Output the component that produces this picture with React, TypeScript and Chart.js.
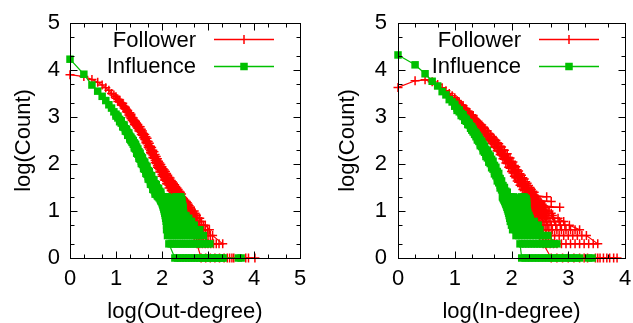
import React, { useEffect, useRef } from "react";
import { Chart, registerables } from "chart.js";

Chart.register(...registerables);

const FONT_FAMILY = "'Liberation Sans', Arial, Helvetica, sans-serif";
const FONT_SIZE = 22;
const RED = "#ff0000";
const GREEN = "#00c000";

const seriesNames = ["Follower", "Influence"];
const seriesColors = [RED, GREEN];
const yTicks = [0, 1, 2, 3, 4, 5];
const outXTicks = [0, 1, 2, 3, 4, 5];
const inXTicks = [0, 1, 2, 3, 4];
const minorOffsets = [0.301, 0.699];

// Row = [x, y1, y2, ...]  (several degrees sharing nearly the same log-degree)
// Level = [y, x1, x2, ...] (low counts fall on discrete log-count levels)
type Row = number[];

// ---- Left panel: out-degree ----
const outFollowerRows: Row[] = [
  [0, 3.9], [0.301, 3.86], [0.477, 3.8], [0.602, 3.74], [0.699, 3.68], [0.778, 3.62], [0.845, 3.57],
  [0.903, 3.5], [0.954, 3.47],
  [1.0, 3.4, 3.43], [1.041, 3.37, 3.33], [1.079, 3.32, 3.36], [1.114, 3.3, 3.26], [1.146, 3.25, 3.29],
  [1.176, 3.23, 3.19], [1.204, 3.17, 3.21], [1.23, 3.15, 3.11], [1.255, 3.1, 3.14], [1.279, 3.09, 3.04],
  [1.301, 3.04, 3.09, 3.0], [1.325, 3.03, 2.97, 3.06], [1.35, 2.93, 2.99, 2.96], [1.375, 2.98, 2.9, 2.94],
  [1.4, 2.87, 2.93, 2.84], [1.425, 2.91, 2.83, 2.87], [1.45, 2.79, 2.86, 2.82], [1.475, 2.84, 2.76, 2.8],
  [1.5, 2.73, 2.8, 2.7], [1.525, 2.79, 2.69, 2.74], [1.55, 2.67, 2.74, 2.63], [1.575, 2.7, 2.61, 2.66],
  [1.6, 2.56, 2.65, 2.6], [1.625, 2.63, 2.52, 2.57], [1.65, 2.49, 2.58, 2.45], [1.675, 2.55, 2.43, 2.49],
  [1.7, 2.39, 2.48, 2.35], [1.725, 2.44, 2.32, 2.38], [1.75, 2.28, 2.38, 2.24], [1.775, 2.35, 2.22, 2.29],
  [1.8, 2.19, 2.29, 2.14], [1.825, 2.26, 2.12, 2.19], [1.85, 2.08, 2.2, 2.03], [1.875, 2.16, 2.01, 2.09],
  [1.9, 1.97, 2.11, 1.93], [1.925, 2.06, 1.91, 1.99], [1.95, 1.88, 2.02, 1.83], [1.975, 1.99, 1.83, 1.92],
  [2.0, 1.78, 1.94, 1.74], [2.025, 1.9, 1.74, 1.83], [2.05, 1.71, 1.87, 1.66], [2.075, 1.84, 1.66, 1.76],
  [2.1, 1.63, 1.8, 1.58], [2.125, 1.76, 1.58, 1.68], [2.15, 1.55, 1.72, 1.49], [2.175, 1.7, 1.51, 1.61],
  [2.2, 1.47, 1.65, 1.43], [2.225, 1.62, 1.45, 1.54], [2.25, 1.4, 1.59, 1.36], [2.275, 1.56, 1.38, 1.48],
  [2.3, 1.34, 1.52, 1.32], [2.325, 1.49, 1.34, 1.43], [2.35, 1.32, 1.46, 1.38], [2.375, 1.42, 1.36],
  [2.4, 1.4, 1.34], [2.425, 1.36],
];
const outFollowerLevels: Row[] = [
  [1.301, 2.28, 2.33, 2.38, 2.43],
  [1.279, 2.3, 2.35, 2.4, 2.45],
  [1.255, 2.32, 2.37, 2.42, 2.47],
  [1.23, 2.31, 2.36, 2.41, 2.46, 2.5],
  [1.204, 2.34, 2.39, 2.44, 2.49, 2.53],
  [1.176, 2.36, 2.41, 2.46, 2.51, 2.55],
  [1.146, 2.37, 2.42, 2.47, 2.52, 2.57],
  [1.114, 2.39, 2.44, 2.49, 2.54, 2.59],
  [1.079, 2.41, 2.46, 2.51, 2.56, 2.61],
  [1.041, 2.43, 2.48, 2.53, 2.58, 2.63],
  [1.0, 2.45, 2.5, 2.55, 2.6, 2.65, 2.7],
  [0.954, 2.47, 2.52, 2.57, 2.62, 2.67, 2.72],
  [0.903, 2.5, 2.55, 2.6, 2.65, 2.7, 2.75],
  [0.845, 2.53, 2.58, 2.63, 2.68, 2.73, 2.78, 2.82],
  [0.778, 2.56, 2.61, 2.66, 2.71, 2.76, 2.81, 2.86],
  [0.699, 2.6, 2.65, 2.7, 2.75, 2.8, 2.85, 2.9, 2.94],
  [0.602, 2.64, 2.69, 2.74, 2.79, 2.84, 2.89, 2.94, 2.99, 3.03],
  [0.477, 2.7, 2.75, 2.8, 2.85, 2.9, 2.95, 3.0, 3.05, 3.1],
  [0.301, 2.76, 2.82, 2.88, 2.94, 3.0, 3.06, 3.12, 3.18, 3.24, 3.32],
  [0, 2.85, 2.95, 3.05, 3.15, 3.25, 3.35, 3.42, 3.47, 3.52, 3.56, 3.82, 3.88, 4.02],
];
const outInfluenceRows: Row[] = [
  [0, 4.23], [0.301, 3.91], [0.477, 3.68], [0.602, 3.55], [0.699, 3.44], [0.778, 3.35], [0.845, 3.26],
  [0.903, 3.19], [0.954, 3.11],
  [1.0, 3.06, 3.02], [1.041, 2.98, 3.02], [1.079, 2.95, 2.9], [1.114, 2.87, 2.92], [1.146, 2.84, 2.79],
  [1.176, 2.78, 2.83], [1.204, 2.75, 2.7], [1.23, 2.69, 2.74], [1.255, 2.67, 2.61], [1.279, 2.61, 2.66],
  [1.301, 2.59, 2.53, 2.56], [1.325, 2.57, 2.5, 2.53], [1.35, 2.46, 2.53, 2.49], [1.375, 2.5, 2.42, 2.46],
  [1.4, 2.37, 2.45, 2.34], [1.425, 2.42, 2.32, 2.38], [1.45, 2.27, 2.36, 2.23], [1.475, 2.32, 2.21, 2.27],
  [1.5, 2.16, 2.26, 2.12], [1.525, 2.23, 2.1, 2.17], [1.55, 2.06, 2.16, 2.01], [1.575, 2.13, 1.99, 2.07],
  [1.6, 1.95, 2.06, 1.9], [1.625, 2.04, 1.89, 1.97], [1.65, 1.85, 1.97, 1.8], [1.675, 1.94, 1.78, 1.87],
  [1.7, 1.73, 1.86, 1.68], [1.725, 1.84, 1.67, 1.76], [1.75, 1.62, 1.76, 1.57], [1.775, 1.75, 1.56, 1.66],
  [1.8, 1.52, 1.67, 1.46], [1.825, 1.66, 1.45, 1.57], [1.85, 1.41, 1.58, 1.36], [1.875, 1.56, 1.36, 1.47],
  [1.9, 1.34, 1.49, 1.32], [1.925, 1.48, 1.32, 1.4], [1.95, 1.32, 1.42, 1.36], [1.975, 1.4, 1.34],
];
const outInfluenceLevels: Row[] = [
  [1.301, 1.92, 1.97, 2.02, 2.07, 2.12, 2.3, 2.36, 2.41],
  [1.279, 1.94, 1.99, 2.04, 2.09, 2.14, 2.33, 2.39],
  [1.255, 1.96, 2.01, 2.06, 2.11, 2.16, 2.31, 2.37, 2.42],
  [1.23, 1.97, 2.02, 2.07, 2.12, 2.17, 2.22, 2.34, 2.4, 2.43],
  [1.204, 1.98, 2.03, 2.08, 2.13, 2.18, 2.23, 2.28, 2.33, 2.38, 2.43],
  [1.176, 2.0, 2.05, 2.1, 2.15, 2.2, 2.25, 2.3, 2.35, 2.4],
  [1.146, 2.01, 2.06, 2.11, 2.16, 2.21, 2.26, 2.31, 2.36, 2.41, 2.44],
  [1.114, 2.02, 2.07, 2.12, 2.17, 2.22, 2.27, 2.32, 2.37, 2.42, 2.45],
  [1.079, 2.03, 2.08, 2.13, 2.18, 2.23, 2.28, 2.33, 2.38, 2.43, 2.46],
  [1.041, 2.04, 2.09, 2.14, 2.19, 2.24, 2.29, 2.34, 2.39, 2.44],
  [1.0, 2.05, 2.1, 2.15, 2.2, 2.25, 2.3, 2.35, 2.4, 2.46],
  [0.954, 2.06, 2.11, 2.16, 2.21, 2.26, 2.31, 2.36, 2.41, 2.47],
  [0.903, 2.07, 2.12, 2.17, 2.22, 2.27, 2.32, 2.37, 2.42, 2.47, 2.52],
  [0.845, 2.08, 2.13, 2.18, 2.23, 2.28, 2.33, 2.38, 2.43, 2.48, 2.53, 2.58],
  [0.778, 2.09, 2.14, 2.19, 2.24, 2.29, 2.34, 2.39, 2.44, 2.49, 2.54, 2.59, 2.64],
  [0.699, 2.1, 2.15, 2.2, 2.25, 2.3, 2.35, 2.4, 2.45, 2.5, 2.55, 2.6, 2.65, 2.7],
  [0.602, 2.1, 2.15, 2.2, 2.25, 2.3, 2.35, 2.4, 2.45, 2.5, 2.55, 2.6, 2.65, 2.7, 2.76, 2.82],
  [0.477, 2.12, 2.17, 2.22, 2.27, 2.32, 2.37, 2.42, 2.47, 2.52, 2.57, 2.62, 2.67, 2.72, 2.78, 2.84, 2.9],
  [0.301, 2.15, 2.2, 2.25, 2.3, 2.35, 2.4, 2.45, 2.5, 2.55, 2.6, 2.65, 2.7, 2.75, 2.81, 2.87, 2.93, 2.99, 3.04],
  [0, 2.28, 2.34, 2.4, 2.46, 2.52, 2.58, 2.64, 2.7, 2.76, 2.82, 2.88, 2.94, 3.0, 3.06, 3.12, 3.18, 3.24, 3.3, 3.33, 3.66, 3.72],
];

// ---- Right panel: in-degree ----
const inFollowerRows: Row[] = [
  [0, 3.63], [0.301, 3.77], [0.477, 3.79], [0.602, 3.75], [0.699, 3.69], [0.778, 3.62], [0.845, 3.56],
  [0.903, 3.5], [0.954, 3.45],
  [1.0, 3.38, 3.41], [1.041, 3.35, 3.31], [1.079, 3.28, 3.32], [1.114, 3.26, 3.22], [1.146, 3.2, 3.24],
  [1.176, 3.18, 3.14], [1.204, 3.13, 3.17], [1.23, 3.11, 3.07], [1.255, 3.06, 3.1], [1.279, 3.05, 3.0],
  [1.301, 3.0, 3.05, 2.97], [1.325, 3.0, 2.94, 3.03], [1.35, 2.91, 2.97, 2.94], [1.375, 2.94, 2.87, 2.91],
  [1.4, 2.84, 2.9, 2.81], [1.425, 2.88, 2.8, 2.84], [1.45, 2.77, 2.84, 2.74], [1.475, 2.83, 2.73, 2.78],
  [1.5, 2.71, 2.78, 2.67], [1.525, 2.76, 2.66, 2.71], [1.55, 2.63, 2.71, 2.59], [1.575, 2.7, 2.58, 2.64],
  [1.6, 2.56, 2.65, 2.52], [1.625, 2.63, 2.51, 2.57], [1.65, 2.48, 2.58, 2.44], [1.675, 2.56, 2.43, 2.5],
  [1.7, 2.41, 2.52, 2.36], [1.725, 2.5, 2.36, 2.43], [1.75, 2.33, 2.45, 2.28], [1.775, 2.43, 2.28, 2.35],
  [1.8, 2.26, 2.38, 2.2], [1.825, 2.36, 2.19, 2.27], [1.85, 2.17, 2.3, 2.11], [1.875, 2.29, 2.1, 2.19],
  [1.9, 2.09, 2.22, 2.02], [1.925, 2.22, 2.01, 2.1], [1.95, 2.01, 2.14, 1.93], [1.975, 2.13, 1.91, 2.02],
  [2.0, 1.92, 2.06, 1.84], [2.025, 2.04, 1.81, 1.93], [2.05, 1.81, 1.97, 1.74], [2.075, 1.94, 1.71, 1.83],
  [2.1, 1.71, 1.88, 1.64], [2.125, 1.85, 1.61, 1.73], [2.15, 1.62, 1.79, 1.55], [2.175, 1.76, 1.52, 1.64],
  [2.2, 1.53, 1.71, 1.46], [2.225, 1.68, 1.43, 1.56], [2.25, 1.44, 1.62, 1.38], [2.275, 1.59, 1.36, 1.48],
  [2.3, 1.36, 1.54, 1.32], [2.325, 1.5, 1.34, 1.42], [2.35, 1.32, 1.46, 1.38], [2.375, 1.42, 1.36],
  [2.4, 1.4, 1.34],
];
const inFollowerLevels: Row[] = [
  [1.301, 2.22, 2.27, 2.32, 2.37, 2.42, 2.62],
  [1.279, 2.24, 2.29, 2.34, 2.39, 2.44],
  [1.255, 2.25, 2.3, 2.35, 2.4, 2.45],
  [1.23, 2.26, 2.31, 2.36, 2.41, 2.46],
  [1.204, 2.27, 2.32, 2.37, 2.42, 2.47, 2.7],
  [1.176, 2.28, 2.33, 2.38, 2.43, 2.48, 2.52],
  [1.146, 2.29, 2.34, 2.39, 2.44, 2.49, 2.54],
  [1.114, 2.3, 2.35, 2.4, 2.45, 2.5, 2.56],
  [1.079, 2.32, 2.37, 2.42, 2.47, 2.52, 2.58, 2.85],
  [1.041, 2.33, 2.38, 2.43, 2.48, 2.53, 2.6],
  [1.0, 2.34, 2.39, 2.44, 2.49, 2.54, 2.6, 2.66],
  [0.954, 2.36, 2.41, 2.46, 2.51, 2.56, 2.62, 2.7],
  [0.903, 2.38, 2.43, 2.48, 2.53, 2.58, 2.64, 2.72],
  [0.845, 2.4, 2.45, 2.5, 2.55, 2.6, 2.66, 2.74, 2.82],
  [0.778, 2.42, 2.47, 2.52, 2.57, 2.62, 2.68, 2.76, 2.84, 2.92],
  [0.699, 2.44, 2.49, 2.54, 2.59, 2.64, 2.7, 2.78, 2.86, 2.94, 3.02],
  [0.602, 2.46, 2.51, 2.56, 2.61, 2.66, 2.72, 2.8, 2.88, 2.96, 3.04, 3.12, 3.2],
  [0.477, 2.5, 2.55, 2.6, 2.65, 2.7, 2.76, 2.84, 2.92, 3.0, 3.08, 3.16, 3.24, 3.32],
  [0.301, 2.56, 2.62, 2.68, 2.74, 2.8, 2.88, 2.96, 3.04, 3.12, 3.2, 3.28, 3.36, 3.44, 3.52],
  [0, 2.7, 2.8, 2.9, 3.0, 3.1, 3.2, 3.28, 3.34, 3.48, 3.52, 3.56, 3.62, 3.68, 3.73, 3.8, 3.86],
];
const inInfluenceRows: Row[] = [
  [0, 4.32], [0.301, 4.11], [0.477, 3.92], [0.602, 3.76], [0.699, 3.66], [0.778, 3.54], [0.845, 3.47],
  [0.903, 3.37], [0.954, 3.32],
  [1.0, 3.23, 3.27], [1.041, 3.19, 3.14], [1.079, 3.11, 3.15], [1.114, 3.08, 3.03], [1.146, 3.01, 3.05],
  [1.176, 2.98, 2.93], [1.204, 2.91, 2.95], [1.23, 2.89, 2.84], [1.255, 2.83, 2.87], [1.279, 2.81, 2.76],
  [1.301, 2.75, 2.79, 2.72], [1.325, 2.74, 2.68, 2.71], [1.35, 2.63, 2.69, 2.66], [1.375, 2.66, 2.58, 2.62],
  [1.4, 2.54, 2.61, 2.51], [1.425, 2.57, 2.48, 2.53], [1.45, 2.43, 2.51, 2.39], [1.475, 2.48, 2.37, 2.43],
  [1.5, 2.33, 2.42, 2.28], [1.525, 2.38, 2.25, 2.31], [1.55, 2.21, 2.31, 2.16], [1.575, 2.28, 2.13, 2.2],
  [1.6, 2.1, 2.21, 2.04], [1.625, 2.17, 2.01, 2.09], [1.65, 1.98, 2.1, 1.92], [1.675, 2.06, 1.89, 1.97],
  [1.7, 1.85, 1.97, 1.79], [1.725, 1.93, 1.75, 1.84], [1.75, 1.71, 1.84, 1.64], [1.775, 1.8, 1.6, 1.7],
  [1.8, 1.55, 1.69, 1.49], [1.825, 1.64, 1.45, 1.55], [1.85, 1.41, 1.54, 1.36], [1.875, 1.5, 1.34, 1.43],
  [1.9, 1.33, 1.42], [1.925, 1.4, 1.32],
];
const inInfluenceLevels: Row[] = [
  [1.301, 1.84, 1.89, 1.94, 1.99, 2.04, 2.18, 2.22],
  [1.279, 1.85, 1.9, 1.95, 2.0, 2.05, 2.2, 2.24],
  [1.255, 1.86, 1.91, 1.96, 2.01, 2.06, 2.11, 2.21, 2.26],
  [1.23, 1.87, 1.92, 1.97, 2.02, 2.07, 2.12, 2.17, 2.23],
  [1.204, 1.88, 1.93, 1.98, 2.03, 2.08, 2.13, 2.18, 2.23, 2.27],
  [1.176, 1.89, 1.94, 1.99, 2.04, 2.09, 2.14, 2.19, 2.24],
  [1.146, 1.9, 1.95, 2.0, 2.05, 2.1, 2.15, 2.2, 2.25],
  [1.114, 1.91, 1.96, 2.01, 2.06, 2.11, 2.16, 2.21, 2.27],
  [1.079, 1.92, 1.97, 2.02, 2.07, 2.12, 2.17, 2.22, 2.26],
  [1.041, 1.93, 1.98, 2.03, 2.08, 2.13, 2.18, 2.23, 2.27],
  [1.0, 1.94, 1.99, 2.04, 2.09, 2.14, 2.19, 2.24, 2.28],
  [0.954, 1.95, 2.0, 2.05, 2.1, 2.15, 2.2, 2.25, 2.29],
  [0.903, 1.96, 2.01, 2.06, 2.11, 2.16, 2.21, 2.26, 2.31],
  [0.845, 1.97, 2.02, 2.07, 2.12, 2.17, 2.22, 2.27, 2.33],
  [0.778, 1.98, 2.03, 2.08, 2.13, 2.18, 2.23, 2.28, 2.34, 2.4],
  [0.699, 2.0, 2.05, 2.1, 2.15, 2.2, 2.25, 2.3, 2.35, 2.41, 2.47],
  [0.602, 2.02, 2.07, 2.12, 2.17, 2.22, 2.27, 2.32, 2.37, 2.43, 2.5],
  [0.477, 2.08, 2.13, 2.18, 2.23, 2.28, 2.33, 2.38, 2.43, 2.48, 2.53, 2.58, 2.64],
  [0.301, 2.15, 2.2, 2.25, 2.3, 2.35, 2.4, 2.45, 2.5, 2.55, 2.6, 2.65, 2.7, 2.75, 2.8],
  [0, 2.18, 2.24, 2.3, 2.36, 2.42, 2.48, 2.54, 2.6, 2.66, 2.72, 2.78, 2.84, 2.9, 2.96, 3.02, 3.08, 3.14, 3.2, 3.36, 3.42],
];

type Pt = { x: number; y: number };

// Rows are traced in degree order; the low-count tail is traced level by level,
// alternating direction so the connecting line stays inside the marker cloud.
function buildPoints(rows: Row[], levels: Row[]): Pt[] {
  const pts: Pt[] = [];
  rows.forEach(([x, ...ys]) => ys.forEach((y) => pts.push({ x, y })));
  const n = levels.length;
  levels.forEach(([y, ...xs], i) => {
    const seq = (n - 1 - i) % 2 === 0 ? xs : [...xs].reverse();
    seq.forEach((x) => pts.push({ x, y }));
  });
  return pts;
}

const font = { family: FONT_FAMILY, size: FONT_SIZE };

const framePlugin = {
  id: "gpFrame",
  afterDatasetsDraw(chart: any) {
    const { ctx, chartArea: a, scales } = chart;
    const xs = scales.x;
    const ys = scales.y;
    ctx.save();
    ctx.strokeStyle = "#000";
    ctx.lineWidth = 1;
    const L = Math.round(a.left) + 0.5;
    const R = Math.round(a.right) + 0.5;
    const T = Math.round(a.top) + 0.5;
    const B = Math.round(a.bottom) + 0.5;
    ctx.strokeRect(L, T, R - L, B - T);
    const major = 7;
    const minor = 4;
    ctx.beginPath();
    const xMax = xs.max;
    for (let k = 0; k <= xMax; k++) {
      const vals: [number, number][] = [[k, major]];
      minorOffsets.forEach((o) => { if (k + o < xMax) vals.push([k + o, minor]); });
      vals.forEach(([v, len]) => {
        const px = Math.round(xs.getPixelForValue(v)) + 0.5;
        ctx.moveTo(px, B); ctx.lineTo(px, B - len);
        ctx.moveTo(px, T); ctx.lineTo(px, T + len);
      });
    }
    const yMax = ys.max;
    for (let k = 0; k <= yMax; k++) {
      const vals: [number, number][] = [[k, major]];
      minorOffsets.forEach((o) => { if (k + o < yMax) vals.push([k + o, minor]); });
      vals.forEach(([v, len]) => {
        const py = Math.round(ys.getPixelForValue(v)) + 0.5;
        ctx.moveTo(L, py); ctx.lineTo(L + len, py);
        ctx.moveTo(R, py); ctx.lineTo(R - len, py);
      });
    }
    ctx.stroke();
    ctx.restore();
  },
};

const legendPlugin = {
  id: "gpLegend",
  afterDraw(chart: any) {
    const { ctx, chartArea: a } = chart;
    const r = Math.round(a.right);
    const rows = [47, 73];
    const lineYs = [39.5, 66.5];
    ctx.save();
    ctx.font = `${FONT_SIZE}px ${FONT_FAMILY}`;
    ctx.textAlign = "right";
    ctx.textBaseline = "alphabetic";
    seriesNames.forEach((name, i) => {
      const color = seriesColors[i];
      ctx.fillStyle = "#000";
      ctx.fillText(name, r - 104, rows[i]);
      const y = lineYs[i];
      const x0 = r - 86;
      const x1 = r - 26;
      const xm = r - 56;
      ctx.strokeStyle = color;
      ctx.lineWidth = 1.4;
      ctx.beginPath();
      ctx.moveTo(x0, y);
      ctx.lineTo(x1, y);
      ctx.stroke();
      if (i === 0) {
        ctx.lineWidth = 1.5;
        ctx.beginPath();
        ctx.moveTo(xm, y - 4.5);
        ctx.lineTo(xm, y + 4.5);
        ctx.stroke();
      } else {
        ctx.fillStyle = color;
        ctx.fillRect(xm - 3.75, y - 3.75, 7.5, 7.5);
      }
    });
    ctx.restore();
  },
};

type PanelProps = {
  left: number;
  width: number;
  xMax: number;
  xTicks: number[];
  xTitle: string;
  follower: Pt[];
  influence: Pt[];
  yAxisWidth: number;
  padRight: number;
  yTitlePad: number;
  yTickPad: number;
};

function Panel(p: PanelProps) {
  const ref = useRef<HTMLCanvasElement>(null);
  useEffect(() => {
    const chart = new Chart(ref.current as HTMLCanvasElement, {
      type: "scatter",
      data: {
        datasets: [
          {
            label: seriesNames[0],
            data: p.follower,
            showLine: true,
            borderColor: RED,
            backgroundColor: RED,
            borderWidth: 1.2,
            pointStyle: "cross",
            pointRadius: 4.5,
            pointBorderWidth: 1.5,
            pointBorderColor: RED,
            pointBackgroundColor: RED,
            tension: 0,
            clip: false,
            order: 2,
          } as any,
          {
            label: seriesNames[1],
            data: p.influence,
            showLine: true,
            borderColor: GREEN,
            backgroundColor: GREEN,
            borderWidth: 1.2,
            pointStyle: "rect",
            pointRadius: 5.3,
            pointBorderWidth: 0,
            pointBackgroundColor: GREEN,
            pointBorderColor: GREEN,
            tension: 0,
            clip: false,
            order: 1,
          } as any,
        ],
      },
      options: {
        responsive: false,
        animation: false,
        devicePixelRatio: 1,
        events: [],
        layout: { padding: { left: 0, top: 23, right: p.padRight, bottom: 0 } },
        plugins: { legend: { display: false }, tooltip: { enabled: false } },
        scales: {
          x: {
            type: "linear",
            min: 0,
            max: p.xMax,
            afterBuildTicks: (s: any) => { s.ticks = p.xTicks.map((v) => ({ value: v })); },
            ticks: { font, color: "#000", padding: 8, maxRotation: 0, autoSkip: false },
            grid: { display: false, drawTicks: false },
            border: { display: false },
            title: { display: true, text: p.xTitle, font, color: "#000", padding: { top: 0, bottom: -2 } },
            afterFit: (s: any) => { s.height = 65; s.paddingLeft = 0; s.paddingRight = 0; },
          } as any,
          y: {
            type: "linear",
            min: 0,
            max: 5,
            afterBuildTicks: (s: any) => { s.ticks = yTicks.map((v) => ({ value: v })); },
            ticks: { font, color: "#000", padding: p.yTickPad, autoSkip: false },
            grid: { display: false, drawTicks: false },
            border: { display: false },
            title: { display: true, text: "log(Count)", font, color: "#000", padding: { top: p.yTitlePad, bottom: 0 } },
            afterFit: (s: any) => { s.width = p.yAxisWidth; s.paddingTop = 0; s.paddingBottom = 0; },
          } as any,
        },
      },
      plugins: [framePlugin, legendPlugin],
    });
    return () => chart.destroy();
  }, []);
  return (
    <canvas
      ref={ref}
      width={p.width}
      height={323}
      style={{ position: "absolute", left: p.left, top: 0, width: p.width, height: 323 }}
    />
  );
}

export default function App() {
  const outFollower = buildPoints(outFollowerRows, outFollowerLevels);
  const outInfluence = buildPoints(outInfluenceRows, outInfluenceLevels);
  const inFollower = buildPoints(inFollowerRows, inFollowerLevels);
  const inInfluence = buildPoints(inInfluenceRows, inInfluenceLevels);
  return (
    <div style={{ position: "absolute", left: 0, top: 0, width: 633, height: 323, background: "#fff", overflow: "hidden" }}>
      <Panel
        left={0}
        width={316}
        xMax={5}
        xTicks={outXTicks}
        xTitle="log(Out-degree)"
        follower={outFollower}
        influence={outInfluence}
        yAxisWidth={70}
        padRight={16}
        yTitlePad={11}
        yTickPad={10}
      />
      <Panel
        left={316}
        width={317}
        xMax={4}
        xTicks={inXTicks}
        xTitle="log(In-degree)"
        follower={inFollower}
        influence={inInfluence}
        yAxisWidth={82}
        padRight={8}
        yTitlePad={19}
        yTickPad={11}
      />
    </div>
  );
}
